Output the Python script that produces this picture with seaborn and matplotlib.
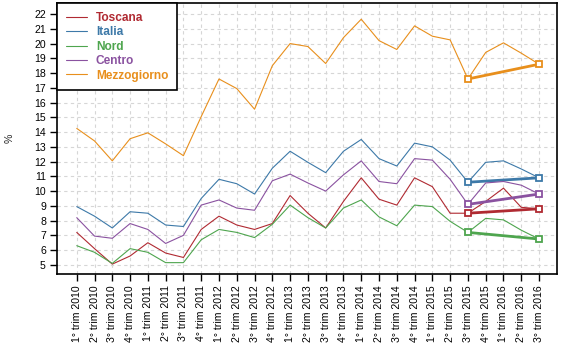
import pandas as pd
import seaborn as sns
from matplotlib import pyplot as plt

quarters = [
    '1° trim 2010', '2° trim 2010', '3° trim 2010', '4° trim 2010',
    '1° trim 2011', '2° trim 2011', '3° trim 2011', '4° trim 2011',
    '1° trim 2012', '2° trim 2012', '3° trim 2012', '4° trim 2012',
    '1° trim 2013', '2° trim 2013', '3° trim 2013', '4° trim 2013',
    '1° trim 2014', '2° trim 2014', '3° trim 2014', '4° trim 2014',
    '1° trim 2015', '2° trim 2015', '3° trim 2015', '4° trim 2015',
    '1° trim 2016', '2° trim 2016', '3° trim 2016',
]

toscana = [7.2, 6.1, 5.05, 5.6, 6.5, 5.8, 5.5, 7.4, 8.3, 7.7, 7.4, 7.8, 9.7, 8.5,
           7.5, 9.3, 10.9, 9.45, 9.05, 10.9, 10.3, 8.5, 8.5, 9.3, 10.2, 8.9, 8.8]
italia = [8.95, 8.3, 7.5, 8.6, 8.5, 7.7, 7.6, 9.5, 10.8, 10.5, 9.8, 11.55, 12.7, 11.95,
          11.25, 12.7, 13.5, 12.2, 11.7, 13.25, 13.0, 12.1, 10.6, 11.95, 12.05, 11.5, 10.9]
nord = [6.3, 5.85, 5.1, 6.1, 5.85, 5.15, 5.15, 6.7, 7.4, 7.2, 6.85, 7.75, 9.05, 8.2,
        7.5, 8.85, 9.4, 8.25, 7.65, 9.05, 8.95, 7.95, 7.2, 8.15, 8.05, 7.35, 6.75]
centro = [8.2, 6.95, 6.8, 7.8, 7.4, 6.45, 7.0, 9.05, 9.4, 8.85, 8.7, 10.7, 11.15, 10.55,
          10.0, 11.1, 12.05, 10.65, 10.5, 12.2, 12.1, 10.8, 9.1, 10.55, 10.65, 10.4, 9.8]
mezzogiorno = [14.25, 13.4, 12.05, 13.55, 13.95, 13.2, 12.4, 15.05, 17.6, 16.95, 15.55,
               18.5, 20.0, 19.8, 18.65, 20.4, 21.65, 20.2, 19.6, 21.2, 20.5, 20.25, 17.6,
               19.4, 20.05, 19.35, 18.6]

areas = ['Toscana', 'Italia', 'Nord', 'Centro', 'Mezzogiorno']
colors = ['#b02a32', '#3d79a8', '#4ea54e', '#8a52a0', '#e88f1c']
trend_from = '3° trim 2015'

df = pd.DataFrame({
    'quarter': quarters,
    'pos': range(len(quarters)),
    'Toscana': toscana,
    'Italia': italia,
    'Nord': nord,
    'Centro': centro,
    'Mezzogiorno': mezzogiorno,
}).melt(id_vars=['quarter', 'pos'], var_name='area', value_name='rate')

sns.set_style('white')
plt.rcParams['font.family'] = ['Liberation Sans', 'DejaVu Sans']

fig = plt.figure(figsize=(5.61, 3.53), dpi=100)
ax = fig.add_axes([57 / 561, 1 - 274 / 353, 500 / 561, 271 / 353])

start = quarters.index(trend_from)
end = len(quarters) - 1

for area, color in zip(areas, colors):
    part = df[df['area'] == area]
    sns.lineplot(data=part, x='pos', y='rate', color=color, linewidth=0.8,
                 label=area, ax=ax)
    trend = part[part['pos'].isin([start, end])]
    sns.lineplot(data=trend, x='pos', y='rate', color=color, linewidth=2.0,
                 marker='s', markersize=4, markerfacecolor='white',
                 markeredgecolor=color, markeredgewidth=1.3,
                 label='_nolegend_', ax=ax)

ax.set_xlim(-1.11, 27.01)
ax.set_ylim(4.38, 22.75)
ax.set_xticks(range(len(quarters)))
ax.set_xticklabels(quarters, rotation=90, va='top', ha='center')
ax.set_yticks(range(5, 23))
ax.set_xlabel('')
ax.set_ylabel('%', fontsize=7.6, labelpad=14)

ax.grid(True, color='#d6d6d6', linestyle=(0, (3, 3)), linewidth=0.8)
ax.set_axisbelow(True)
for spine in ax.spines.values():
    spine.set_color('black')
    spine.set_linewidth(1.2)
ax.tick_params(bottom=True, left=True, direction='out', length=5, width=1,
               color='black', labelsize=7.6, labelcolor='black', pad=3)

leg = ax.legend(loc='upper left', bbox_to_anchor=(0, 1), borderaxespad=0,
                fancybox=False, framealpha=1, edgecolor='black',
                labelcolor='linecolor', prop={'weight': 'bold', 'size': 8.6},
                handlelength=1.8, handletextpad=0.7, labelspacing=0.2,
                borderpad=0.75)
leg.get_frame().set_linewidth(1.2)

plt.savefig('out.png', dpi=100)
plt.close()
